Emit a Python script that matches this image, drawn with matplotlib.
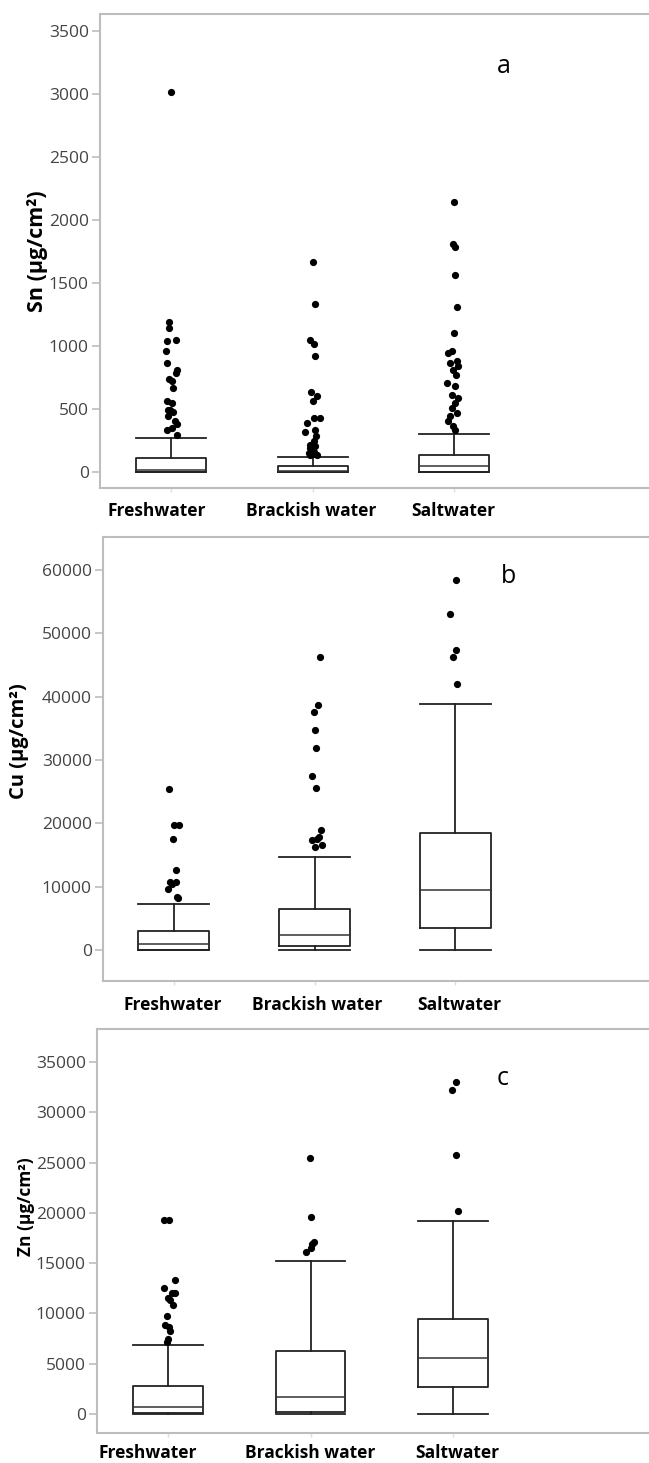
import numpy as np
import matplotlib
matplotlib.use("Agg")
import matplotlib.pyplot as plt

plt.rcParams["font.family"] = ["Open Sans", "DejaVu Sans"]

groups = ["Freshwater", "Brackish water", "Saltwater"]

# --- box statistics: (whislo, q1, med, q3, whishi) ---
sn_boxes = [(0, 0, 15, 110, 270), (0, 0, 5, 48, 116), (0, 0, 45, 135, 304)]
cu_boxes = [(0, 0, 900, 3000, 7300), (0, 700, 2300, 6400, 14700), (0, 3400, 9400, 18400, 38900)]
zn_boxes = [(0, 50, 730, 2800, 6850), (0, 170, 1700, 6250, 15200), (0, 2650, 5530, 9400, 19200)]

# --- outliers (value) and their horizontal jitter (category units) ---
sn_fresh = [3013, 1188, 1143, 1050, 1037, 963, 865, 812, 786, 738, 720, 667, 561, 548, 495, 489, 476, 447, 402, 384, 349, 336, 291]
sn_fresh_dx = [0, -0.012, -0.012, 0.033, -0.031, -0.038, -0.026, 0.040, 0.033, -0.014, 0.009, 0.014, -0.026, 0.005, -0.009, -0.019, 0.012, -0.024, 0.028, 0.040, 0.009, -0.031, 0.042]
sn_brack = [1669, 1333, 1050, 1016, 923, 632, 606, 561, 429, 429, 389, 336, 317, 283, 243, 217, 204, 190, 177, 160, 151, 140, 138, 132]
sn_brack_dx = [0, 0.014, -0.016, 0.007, 0.014, -0.009, 0.031, 0, 0.054, 0.007, -0.040, 0.019, -0.052, 0.026, 0.007, -0.016, 0.019, -0.020, -0.005, 0.012, -0.028, 0.0, 0.031, -0.016]
sn_salt = [2143, 1810, 1786, 1563, 1310, 1101, 958, 944, 878, 865, 839, 812, 772, 706, 685, 614, 587, 548, 508, 468, 442, 402, 362, 336]
sn_salt_dx = [0, -0.009, 0.007, 0.007, 0.019, 0, -0.012, -0.040, 0.019, -0.028, 0.031, -0.009, 0.014, -0.052, 0.007, -0.012, 0.031, 0.007, -0.016, 0.024, -0.028, -0.040, -0.009, 0.007]

cu_fresh = [25500, 19700, 19700, 17500, 12700, 10700, 10700, 10400, 9600, 8400, 8200]
cu_fresh_dx = [-0.036, 0, 0.038, -0.007, 0.017, -0.026, 0.017, -0.014, -0.043, 0.021, 0.026]
cu_brack = [46200, 38700, 37600, 34700, 31900, 27400, 25600, 18900, 17800, 17600, 17300, 16500, 16200]
cu_brack_dx = [0.038, 0.026, -0.005, 0, 0.014, -0.017, 0.014, 0.043, 0.031, 0.019, -0.017, 0.050, 0]
cu_salt = [58400, 53000, 47400, 46300, 42000]
cu_salt_dx = [0.005, -0.033, 0.007, -0.017, 0.012]

zn_fresh = [19300, 19300, 13300, 12500, 12000, 12000, 11500, 11300, 10800, 9700, 8800, 8700, 8300, 7500, 7200]
zn_fresh_dx = [-0.030, 0.009, 0.051, -0.026, 0.028, 0.047, 0, 0.016, 0.035, -0.007, -0.023, 0.005, 0.016, 0, -0.007]
zn_brack = [25500, 19600, 17100, 16900, 16500, 16100]
zn_brack_dx = [-0.007, 0.005, 0.023, 0.012, 0, -0.035]
zn_salt = [33000, 32250, 25800, 20200]
zn_salt_dx = [0.021, -0.009, 0.021, 0.033]

sn_ticks = [0, 500, 1000, 1500, 2000, 2500, 3000, 3500]
cu_ticks = [0, 10000, 20000, 30000, 40000, 50000, 60000]
zn_ticks = [0, 5000, 10000, 15000, 20000, 25000, 30000, 35000]

W, H = 649, 1463
fig = plt.figure(figsize=(W / 100, H / 100), dpi=100)


def rect(left, top, bottom, right=W):
    return [left / W, 1 - bottom / H, (right - left) / W, (bottom - top) / H]


panels = [
    dict(rect=rect(100, 14, 488), xlim=(0.498, 4.378), ylim=(-127, 3635), width=0.495,
         boxes=sn_boxes, ticks=sn_ticks, label="Sn (µg/cm²)", letter="a", letter_xy=(3.35, 3222),
         out=[(sn_fresh, sn_fresh_dx), (sn_brack, sn_brack_dx), (sn_salt, sn_salt_dx)],
         ylab=(-0.094, 0.5, 15.5), xpad=14, xshift=[-14, -1, -1]),
    dict(rect=rect(103, 537, 981), xlim=(0.495, 4.38), ylim=(-4895, 65211), width=0.505,
         boxes=cu_boxes, ticks=cu_ticks, label="Cu (µg/cm²)", letter="b", letter_xy=(3.38, 58900),
         out=[(cu_fresh, cu_fresh_dx), (cu_brack, cu_brack_dx), (cu_salt, cu_salt_dx)],
         ylab=(-0.135, 0.54, 14.5), xpad=15, xshift=[-1, 3, 4]),
    dict(rect=rect(97, 1029, 1433), xlim=(0.502, 4.375), ylim=(-1889, 38281), width=0.49,
         boxes=zn_boxes, ticks=zn_ticks, label="Zn (µg/cm²)", letter="c", letter_xy=(3.35, 33310),
         out=[(zn_fresh, zn_fresh_dx), (zn_brack, zn_brack_dx), (zn_salt, zn_salt_dx)],
         ylab=(-0.112, 0.56, 12.5), xpad=11, xshift=[-20, 0, 4]),
]

frame_col = "#bdbdbd"
for p in panels:
    ax = fig.add_axes(p["rect"])
    stats = []
    for name, (lo, q1, med, q3, hi) in zip(groups, p["boxes"]):
        stats.append(dict(label=name, whislo=lo, q1=q1, med=med, q3=q3, whishi=hi, fliers=[]))
    line = dict(color="#222222", linewidth=1.3)
    ax.bxp(stats, positions=[1, 2, 3], widths=p["width"], showfliers=False,
           boxprops=line, whiskerprops=line, capprops=line,
           medianprops=dict(color="#333333", linewidth=1.1), capwidths=p["width"])
    for i, (vals, dx) in enumerate(p["out"]):
        ax.plot(np.array(dx) + i + 1, vals, "o", color="black", markersize=5.2, markeredgewidth=0)

    ax.set_xlim(*p["xlim"])
    ax.set_ylim(*p["ylim"])
    ax.set_yticks(p["ticks"])
    ax.set_xticks([1, 2, 3])
    ax.set_xticklabels([])
    # category names, nudged to where the original puts them
    for i, (name, dx) in enumerate(zip(groups, p["xshift"])):
        ax.annotate(name, xy=(i + 1, 0), xycoords=("data", "axes fraction"),
                    xytext=(dx, -p["xpad"]), textcoords="offset pixels",
                    ha="center", va="top", fontsize=12.5, fontweight="bold", annotation_clip=False)
    ax.tick_params(axis="y", labelsize=12.5, labelcolor="#444444", color=frame_col, length=6, width=1.2, pad=2)
    ax.tick_params(axis="x", color="#dddddd", length=3, width=1)
    for s in ["left", "top", "bottom"]:
        ax.spines[s].set_color(frame_col)
        ax.spines[s].set_linewidth(1.5)
    ax.spines["right"].set_visible(False)
    lx, ly, lsize = p["ylab"]
    ax.set_ylabel(p["label"], fontsize=lsize, fontweight="bold")
    ax.yaxis.set_label_coords(lx, ly)
    ax.text(*p["letter_xy"], p["letter"], fontsize=18, ha="center", va="center")

fig.savefig("out.png", dpi=100)
